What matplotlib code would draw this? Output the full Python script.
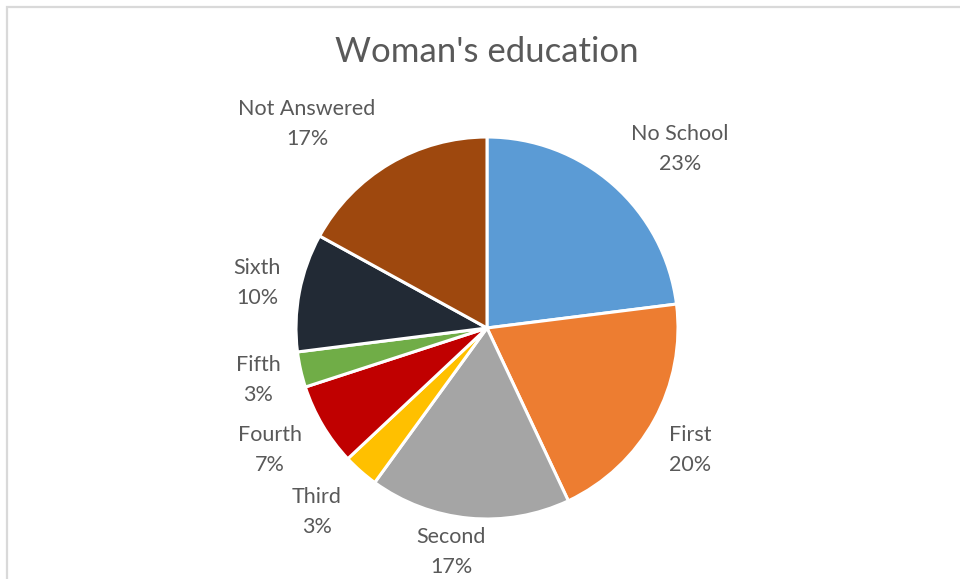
import matplotlib.pyplot as plt
from matplotlib.patches import Rectangle

categories = ["No School", "First", "Second", "Third", "Fourth", "Fifth", "Sixth", "Not Answered"]
shares = [23, 20, 17, 3, 7, 3, 10, 17]
colors = ["#5B9BD5", "#ED7D31", "#A5A5A5", "#FFC000", "#C00000", "#70AD47", "#222A35", "#9E480E"]

# label centres in pixels (x from left, y from top)
label_pos = [(680, 149), (690, 450), (451, 552), (317, 512),
             (270, 450), (258, 380), (257, 283), (307, 124)]

W, H = 960, 579
fig = plt.figure(figsize=(W / 100, H / 100), dpi=100)
ax = fig.add_axes([0, 0, 1, 1])
ax.set_xlim(0, W)
ax.set_ylim(0, H)
ax.set_aspect("equal")
ax.axis("off")

# chart frame, only top and left edges are visible
ax.add_patch(Rectangle((7, -10), W + 20, H - 7 + 10, fill=False,
                       edgecolor="#D9D9D9", linewidth=1.6))

ax.pie(shares, colors=colors, startangle=90, counterclock=False,
       center=(487, H - 328), radius=191,
       wedgeprops=dict(edgecolor="white", linewidth=2.2))
ax.set_xlim(0, W)
ax.set_ylim(0, H)

for name, val, (x, y) in zip(categories, shares, label_pos):
    ax.text(x, H - y, f"{name}\n{val}%", ha="center", va="center",
            fontsize=15.5, color="#595959", family="Lato", linespacing=1.58)

ax.text(487, H - 52, "Woman's education", ha="center", va="center",
        fontsize=25, color="#595959", family="Lato")

fig.savefig("out.png", dpi=100)
